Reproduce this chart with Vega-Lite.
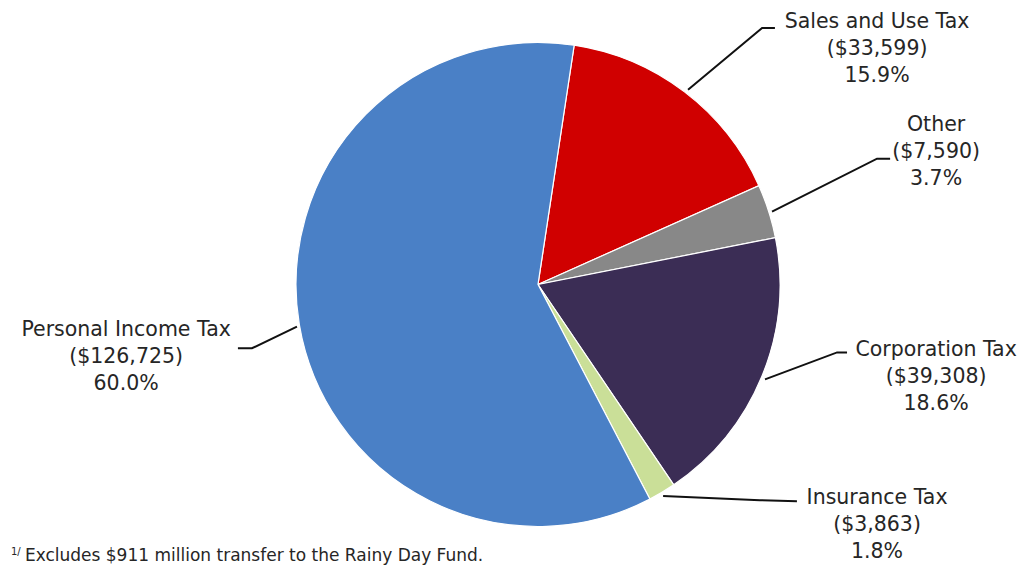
{
  "$schema": "https://vega.github.io/schema/vega-lite/v6.json",
  "width": 1029,
  "height": 565,
  "autosize": {"type": "fit", "contains": "padding"},
  "padding": 0,
  "background": "#ffffff",
  "config": {"view": {"stroke": null}},
  "datasets": {
    "slices": [
      {"category": "Sales and Use Tax", "value": 33599, "idx": 1},
      {"category": "Other", "value": 7590, "idx": 2},
      {"category": "Corporation Tax", "value": 39308, "idx": 3},
      {"category": "Insurance Tax", "value": 3863, "idx": 4},
      {"category": "Personal Income Tax", "value": 126725, "idx": 5}
    ],
    "leaders": [
      {"category": "Sales and Use Tax", "pt": 1, "x": 0.620, "y": 0.806},
      {"category": "Sales and Use Tax", "pt": 2, "x": 0.926, "y": 1.062},
      {"category": "Sales and Use Tax", "pt": 3, "x": 0.979, "y": 1.062},
      {"category": "Other", "pt": 1, "x": 0.967, "y": 0.302},
      {"category": "Other", "pt": 2, "x": 1.401, "y": 0.521},
      {"category": "Other", "pt": 3, "x": 1.455, "y": 0.521},
      {"category": "Corporation Tax", "pt": 1, "x": 0.938, "y": -0.393},
      {"category": "Corporation Tax", "pt": 2, "x": 1.236, "y": -0.281},
      {"category": "Corporation Tax", "pt": 3, "x": 1.277, "y": -0.281},
      {"category": "Insurance Tax", "pt": 1, "x": 0.517, "y": -0.876},
      {"category": "Insurance Tax", "pt": 2, "x": 0.917, "y": -0.893},
      {"category": "Insurance Tax", "pt": 3, "x": 1.070, "y": -0.897},
      {"category": "Personal Income Tax", "pt": 1, "x": -0.996, "y": -0.174},
      {"category": "Personal Income Tax", "pt": 2, "x": -1.182, "y": -0.264},
      {"category": "Personal Income Tax", "pt": 3, "x": -1.240, "y": -0.264}
    ],
    "labels": [
      {"category": "Sales and Use Tax", "label": "Sales and Use Tax\n($33,599)\n15.9%", "x": 1.401, "y": 1.128},
      {"category": "Other", "label": "Other\n($7,590)\n3.7%", "x": 1.645, "y": 0.700},
      {"category": "Corporation Tax", "label": "Corporation Tax\n($39,308)\n18.6%", "x": 1.645, "y": -0.231},
      {"category": "Insurance Tax", "label": "Insurance Tax\n($3,863)\n1.8%", "x": 1.401, "y": -0.843},
      {"category": "Personal Income Tax", "label": "Personal Income Tax\n($126,725)\n60.0%", "x": -1.702, "y": -0.145}
    ],
    "notes": [
      {"part": "mark", "text": "1/", "x": -2.178, "y": -1.118},
      {"part": "body", "text": "Excludes $911 million transfer to the Rainy Day Fund.", "x": -2.120, "y": -1.145}
    ]
  },
  "layer": [
    {
      "data": {"name": "slices"},
      "mark": {"type": "arc", "outerRadius": 242, "stroke": "#ffffff", "strokeWidth": 1.2},
      "encoding": {
        "theta": {"field": "value", "type": "quantitative", "stack": true, "scale": {"range": [0.150, 6.4332]}},
        "order": {"field": "idx", "type": "quantitative"},
        "color": {
          "field": "category", "type": "nominal", "legend": null,
          "scale": {
            "domain": ["Sales and Use Tax", "Other", "Corporation Tax", "Insurance Tax", "Personal Income Tax"],
            "range": ["#D00000", "#888888", "#3B2D55", "#CADF98", "#4A80C6"]
          }
        },
        "x": {"datum": 0, "type": "quantitative", "axis": null, "scale": {"domain": [-2.2231, 2.0289], "nice": false, "zero": false}},
        "y": {"datum": 0, "type": "quantitative", "axis": null, "scale": {"domain": [-1.1570, 1.1777], "nice": false, "zero": false}}
      }
    },
    {
      "data": {"name": "leaders"},
      "mark": {"type": "line", "color": "#111111", "strokeWidth": 2},
      "encoding": {
        "x": {"field": "x", "type": "quantitative", "axis": null, "scale": {"domain": [-2.2231, 2.0289], "nice": false, "zero": false}},
        "y": {"field": "y", "type": "quantitative", "axis": null, "scale": {"domain": [-1.1570, 1.1777], "nice": false, "zero": false}},
        "detail": {"field": "category", "type": "nominal"},
        "order": {"field": "pt", "type": "quantitative"}
      }
    },
    {
      "data": {"name": "labels"},
      "mark": {"type": "text", "align": "center", "baseline": "top", "lineBreak": "\n", "lineHeight": 27, "font": "DejaVu Sans", "fontSize": 20.5, "color": "#262626"},
      "encoding": {
        "x": {"field": "x", "type": "quantitative", "axis": null, "scale": {"domain": [-2.2231, 2.0289], "nice": false, "zero": false}},
        "y": {"field": "y", "type": "quantitative", "axis": null, "scale": {"domain": [-1.1570, 1.1777], "nice": false, "zero": false}},
        "text": {"field": "label", "type": "nominal"}
      }
    },
    {
      "data": {"name": "notes"},
      "mark": {"type": "text", "align": "left", "baseline": "alphabetic", "font": "DejaVu Sans", "color": "#262626"},
      "encoding": {
        "x": {"field": "x", "type": "quantitative", "axis": null, "scale": {"domain": [-2.2231, 2.0289], "nice": false, "zero": false}},
        "y": {"field": "y", "type": "quantitative", "axis": null, "scale": {"domain": [-1.1570, 1.1777], "nice": false, "zero": false}},
        "text": {"field": "text", "type": "nominal"},
        "size": {"field": "part", "type": "nominal", "legend": null, "scale": {"domain": ["mark", "body"], "range": [10, 17]}}
      }
    }
  ]
}
